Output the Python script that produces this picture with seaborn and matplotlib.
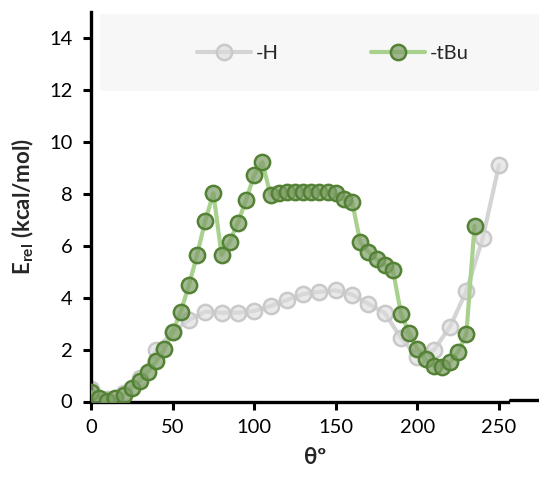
import numpy as np
import pandas as pd
import seaborn as sns
import matplotlib
matplotlib.use("Agg")
import matplotlib.pyplot as plt
from matplotlib.patches import Rectangle
from matplotlib.lines import Line2D

# ---- data ----
theta_h = [0, 10, 20, 30, 40, 50, 60, 70, 80, 90, 100, 110, 120, 130, 140, 150,
           160, 170, 180, 190, 200, 210, 220, 230, 240, 250]
e_h = [0.48, 0.08, 0.33, 0.90, 1.98, 2.69, 3.14, 3.46, 3.42, 3.42, 3.49, 3.68, 3.91,
       4.14, 4.23, 4.28, 4.12, 3.76, 3.41, 2.44, 1.73, 1.98, 2.88, 4.26, 6.29, 9.11]

theta_tbu = [0, 5, 10, 15, 20, 25, 30, 35, 40, 45, 50, 55, 60, 65, 70, 75, 80, 85,
             90, 95, 100, 105, 110, 115, 120, 125, 130, 135, 140, 145, 150, 155,
             160, 165, 170, 175, 180, 185, 190, 195, 200, 205, 210, 215, 220, 225,
             230, 235]
e_tbu = [0.36, 0.12, 0.03, 0.12, 0.25, 0.53, 0.80, 1.15, 1.56, 2.02, 2.67, 3.46,
         4.48, 5.65, 6.97, 8.02, 5.65, 6.16, 6.89, 7.76, 8.73, 9.22, 7.96, 8.02,
         8.06, 8.09, 8.09, 8.09, 8.09, 8.06, 8.02, 7.80, 7.70, 6.13, 5.77, 5.48,
         5.26, 5.07, 3.36, 2.65, 2.02, 1.62, 1.37, 1.32, 1.51, 1.92, 2.60, 6.76]

series_labels = ["-H", "-tBu"]
yticks = [0, 2, 4, 6, 8, 10, 12, 14]
xticks = [0, 50, 100, 150, 200, 250]

df_h = pd.DataFrame({"theta": theta_h, "E": e_h})
df_t = pd.DataFrame({"theta": theta_tbu, "E": e_tbu})

sns.set_style("ticks")
plt.rcParams["font.family"] = ["Lato", "DejaVu Sans"]
plt.rcParams["mathtext.fontset"] = "custom"
plt.rcParams["mathtext.rm"] = "Lato"
plt.rcParams["mathtext.bf"] = "Lato:bold"

fig = plt.figure(figsize=(5.39, 4.78), dpi=100)
ax = fig.add_axes([91 / 539, 76.5 / 478, 1 - 91 / 539, (401.5 - 12.25) / 478])
ax.patch.set_alpha(0)

# legend background band
fig.patches.append(Rectangle((100 / 539, 1 - 90.7 / 478), 1 - 100 / 539,
                             (90.7 - 14) / 478, transform=fig.transFigure,
                             facecolor="#f7f7f7", edgecolor="none", zorder=-5))

sns.lineplot(data=df_h, x="theta", y="E", ax=ax, color="#d4d4d4", linewidth=3.0,
             marker="o", markersize=11, markerfacecolor=(0.86, 0.86, 0.86, 0.6),
             markeredgecolor="#c9c9c9", markeredgewidth=1.8, label=series_labels[0],
             zorder=2)
sns.lineplot(data=df_t, x="theta", y="E", ax=ax, color="#a9d18e", linewidth=3.0,
             marker="o", markersize=11, markerfacecolor=(0.50, 0.62, 0.41, 0.72),
             markeredgecolor="#548235", markeredgewidth=1.8, label=series_labels[1],
             zorder=3)

ax.set_xlim(0, (539 - 91) / 1.632)
ax.set_ylim(0, 15)
ax.set_xticks(xticks)
ax.set_yticks(yticks)
ax.tick_params(axis="both", labelsize=14.5, width=2.2, length=5.5, color="black",
               labelcolor="black")
ax.tick_params(axis="y", pad=8)
ax.tick_params(axis="x", pad=7)
for s in ["top", "right"]:
    ax.spines[s].set_visible(False)
for s in ["left", "bottom"]:
    ax.spines[s].set_linewidth(2.4)
    ax.spines[s].set_color("black")
ax.spines["bottom"].set_bounds(0, 255.5)
ax.add_line(Line2D([256.5, 300], [0.05, 0.05], color="black", linewidth=2.4,
                   clip_on=False, zorder=4))

ax.set_xlabel("θº", fontsize=16, fontweight="bold", labelpad=8)
ax.set_ylabel(r"E$_{\mathbf{rel}}$ (kcal/mol)", fontsize=16, fontweight="bold")
ax.yaxis.set_label_coords(-0.122, 0.5)

leg = ax.legend(loc="center", bbox_to_anchor=(0.617, 1 - 53 / 478),
                bbox_transform=fig.transFigure, ncol=2, frameon=False,
                fontsize=14.5, handlelength=2.7, columnspacing=4.6,
                handletextpad=0.2)

fig.savefig("out.png", dpi=100)
